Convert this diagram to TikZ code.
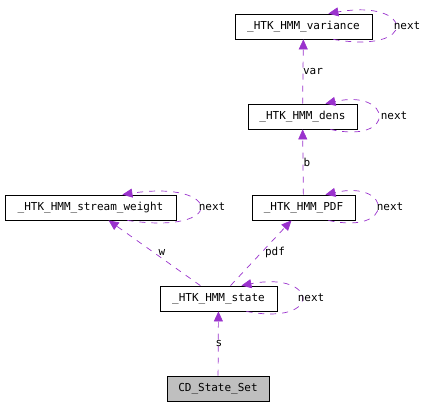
\documentclass[tikz,border=0pt]{standalone}
\usepackage{fontspec}
\setmonofont{DejaVu Sans Mono}
\usetikzlibrary{arrows.meta}
\definecolor{Edge}{HTML}{9A32CD}
\definecolor{Root}{HTML}{BFBFBF}
\tikzset{
    classnode/.style={rectangle, draw=black, line width=0.8pt, fill=white, minimum height=25pt, inner sep=0pt, font=\ttfamily\fontsize{11}{13}\selectfont},
    rootnode/.style={classnode, fill=Root},
    uses/.style={-{Triangle[length=10pt,width=9pt]}, color=Edge, line width=0.7pt, dash pattern=on 6pt off 6pt},
    tag/.style={font=\ttfamily\fontsize{11}{13}\selectfont, text=black, inner sep=1pt},
}

\begin{document}
\begin{tikzpicture}[x=1pt, y=-1pt]
    \useasboundingbox[fill=white] (0,0) rectangle (428,407);

    % classes
    \node[classnode, minimum width=137pt] (var) at (303.5,26.5) {\_HTK\_HMM\_variance};
    \node[classnode, minimum width=109pt] (dens) at (302.5,116.5) {\_HTK\_HMM\_dens};
    \node[classnode, minimum width=171pt] (stream) at (90.5,207.5) {\_HTK\_HMM\_stream\_weight};
    \node[classnode, minimum width=103pt] (pdf) at (303.5,207.5) {\_HTK\_HMM\_PDF};
    \node[classnode, minimum width=117pt] (state) at (218.5,298.5) {\_HTK\_HMM\_state};
    \node[rootnode, minimum width=102pt] (root) at (218,388.5) {CD\_State\_Set};

    % members
    \draw[uses] (dens) -- (var);
    \draw[uses] (pdf) -- (dens);
    \draw[uses] (state) -- (stream);
    \draw[uses] (state) -- (pdf);
    \draw[uses] (root) -- (state);

    \node[tag] (varlbl) at (313,71) {var};
    \node[tag] (blbl) at (307,162) {b};
    \node[tag] (wlbl) at (162,252) {w};
    \node[tag] (pdflbl) at (275,252) {pdf};
    \node[tag] (slbl) at (219,343) {s};

    % next loops
    \draw[uses] ([xshift=-39pt]var.south east) .. controls +(86,15) and +(86,-15) .. ([xshift=-44pt]var.north east);
    \draw[uses] ([xshift=-27pt]dens.south east) .. controls +(67,15) and +(67,-15) .. ([xshift=-32pt]dens.north east);
    \draw[uses] ([xshift=-49pt]stream.south east) .. controls +(100,15) and +(100,-15) .. ([xshift=-54pt]stream.north east);
    \draw[uses] ([xshift=-27pt]pdf.south east) .. controls +(67,15) and +(67,-15) .. ([xshift=-30pt]pdf.north east);
    \draw[uses] ([xshift=-31pt]state.south east) .. controls +(77,15) and +(77,-15) .. ([xshift=-36pt]state.north east);

    \node[tag] (varnext) at (407,26) {next};
    \node[tag] (densnext) at (394,116) {next};
    \node[tag] (streamnext) at (212,207) {next};
    \node[tag] (pdfnext) at (390,207) {next};
    \node[tag] (statenext) at (311,298) {next};
\end{tikzpicture}
\end{document}
